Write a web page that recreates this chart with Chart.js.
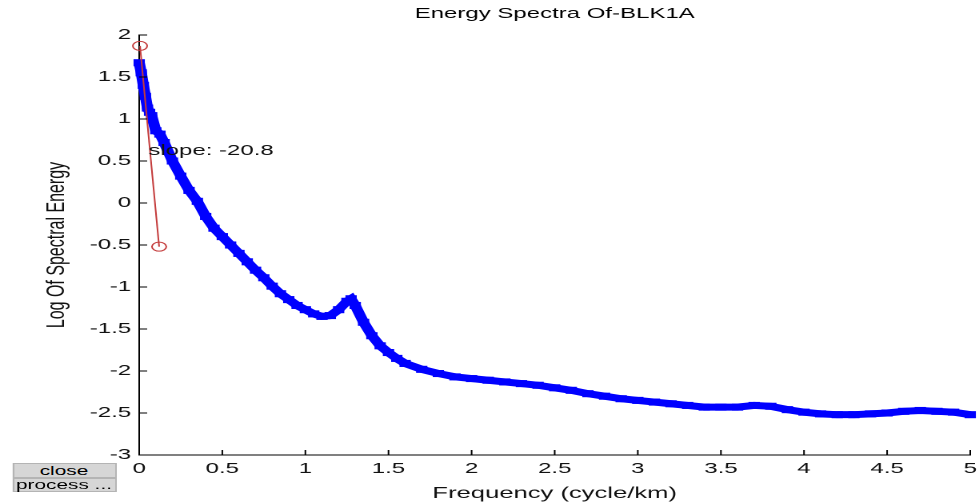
<!DOCTYPE html>
<html>
<head>
<meta charset="utf-8">
<script src="https://cdn.jsdelivr.net/npm/chart.js@4.4.0/dist/chart.umd.min.js"></script>
<style>
  html, body { margin: 0; padding: 0; background: #fff; overflow: hidden; }
  #wrap { position: absolute; left: 0; top: 0; width: 612px; height: 504px;
          transform: scaleX(1.5997); transform-origin: 0 0; }
  #myChart { position: absolute; left: 0; top: 0; }
  .btn { position: absolute; left: 7.5px; width: 65px; background: #d6d6d6;
         border: 1px solid #b4b4b4; box-sizing: border-box; text-align: center;
         font: 13px "Liberation Sans", Arial, sans-serif; color: #000; }
</style>
</head>
<body>
<div id="wrap">
  <canvas id="myChart" width="612" height="504" style="width:612px;height:504px"></canvas>
  <div class="btn" style="top:463px;height:15px;line-height:13px">close</div>
  <div class="btn" style="top:478px;height:14px;line-height:12px">process ...</div>
</div>
<script>
const chartTitle = "Energy Spectra Of-BLK1A"
const xTitle = "Frequency (cycle/km)"
const yTitle = "Log Of Spectral Energy"
const slopeLabel = "slope: -20.8"
const slopeAt = [0.055, 0.62]

// espectro
const freq = [0, 0.0125, 0.025, 0.0375, 0.05, 0.0625, 0.075, 0.1, 0.125, 0.15,
  0.2, 0.25, 0.3, 0.35, 0.4, 0.45, 0.5, 0.55, 0.6, 0.65,
  0.7, 0.75, 0.8, 0.85, 0.9, 0.95, 1.0, 1.05, 1.1, 1.15,
  1.2, 1.25, 1.275, 1.3, 1.35, 1.4, 1.45, 1.5, 1.55, 1.6,
  1.7, 1.8, 1.9, 2.0, 2.1, 2.2, 2.3, 2.4, 2.5, 2.6,
  2.7, 2.8, 2.9, 3.0, 3.1, 3.2, 3.3, 3.4, 3.5, 3.6,
  3.7, 3.8, 3.9, 4.0, 4.1, 4.2, 4.3, 4.4, 4.5, 4.6,
  4.7, 4.8, 4.9, 5.0]
const energia = [1.67, 1.55, 1.40, 1.27, 1.13, 1.08, 1.04, 0.86, 0.82, 0.72,
  0.50, 0.32, 0.15, 0.02, -0.16, -0.30, -0.40, -0.50, -0.60, -0.70,
  -0.80, -0.89, -0.99, -1.08, -1.15, -1.22, -1.27, -1.32, -1.35, -1.34,
  -1.27, -1.17, -1.14, -1.22, -1.42, -1.58, -1.70, -1.78, -1.85, -1.91,
  -1.98, -2.03, -2.07, -2.09, -2.11, -2.13, -2.15, -2.17, -2.20, -2.23,
  -2.27, -2.30, -2.33, -2.35, -2.37, -2.39, -2.41, -2.43, -2.43, -2.43,
  -2.41, -2.42, -2.46, -2.49, -2.51, -2.52, -2.52, -2.51, -2.50, -2.48,
  -2.47, -2.48, -2.49, -2.52]

// recta de pendiente
const slopeX = [0.005, 0.12]
const slopeY = [1.87, -0.52]

const xTicks = [0, 0.5, 1, 1.5, 2, 2.5, 3, 3.5, 4, 4.5, 5]
const yTicks = [-3, -2.5, -2, -1.5, -1, -0.5, 0, 0.5, 1, 1.5, 2]

const txtFont = '"Liberation Sans", Arial, sans-serif'

/* ticks hacia adentro + titulo + texto de pendiente */
const extras = {
    id: 'extras',
    afterDraw(chart) {
        const {ctx, chartArea: a, scales: {x, y}} = chart
        ctx.save()
        ctx.strokeStyle = '#000'
        ctx.lineWidth = 1
        ctx.beginPath()
        x.ticks.forEach(t => {
            const px = x.getPixelForValue(t.value)
            ctx.moveTo(px, a.bottom)
            ctx.lineTo(px, a.bottom - 5)
        })
        y.ticks.forEach(t => {
            const py = y.getPixelForValue(t.value)
            ctx.moveTo(a.left, py)
            ctx.lineTo(a.left + 5, py)
        })
        ctx.stroke()

        ctx.fillStyle = '#000'
        ctx.font = '15px ' + txtFont
        ctx.textAlign = 'center'
        ctx.textBaseline = 'middle'
        ctx.fillText(chartTitle, (a.left + a.right) / 2, 14)

        ctx.textAlign = 'left'
        ctx.fillStyle = '#111'
        ctx.fillText(slopeLabel, x.getPixelForValue(slopeAt[0]), y.getPixelForValue(slopeAt[1]))
        ctx.restore()
    }
}

const ctx = document.getElementById('myChart').getContext('2d')

new Chart(ctx, {
    type: 'scatter',
    data: {
        datasets: [{
            label: 'slope',
            data: slopeX.map((v, i) => ({x: v, y: slopeY[i]})),
            showLine: true,
            borderColor: '#c43c3c',
            borderWidth: 1,
            pointStyle: 'circle',
            pointRadius: 4.5,
            pointBorderWidth: 1,
            pointBorderColor: '#c43c3c',
            pointBackgroundColor: 'rgba(0,0,0,0)',
            clip: false
        }, {
            label: 'spectrum',
            data: freq.map((v, i) => ({x: v, y: energia[i]})),
            showLine: true,
            borderColor: '#0000ff',
            borderWidth: 7,
            pointStyle: 'rect',
            pointRadius: 5,
            pointBackgroundColor: '#0000ff',
            pointBorderColor: '#0000ff',
            pointBorderWidth: 0,
            clip: false
        }]
    },
    options: {
        responsive: false,
        animation: false,
        devicePixelRatio: 2,
        layout: { padding: { left: 0, right: 4.5, top: 35, bottom: 0 } },
        plugins: {
            legend: { display: false },
            tooltip: { enabled: false },
            title: { display: false }
        },
        scales: {
            x: {
                type: 'linear',
                min: 0,
                max: 5,
                afterFit: s => { s.height = 49; s.paddingRight = 0; s.paddingLeft = 0 },
                afterBuildTicks: s => { s.ticks = xTicks.map(v => ({value: v})) },
                grid: { display: false, drawTicks: false },
                border: { display: true, color: '#000', width: 1 },
                ticks: {
                    padding: 5,
                    color: '#111',
                    font: { family: txtFont, size: 15 },
                    maxRotation: 0,
                    callback: v => String(v)
                },
                title: {
                    display: true,
                    text: xTitle,
                    color: '#111',
                    font: { family: txtFont, size: 16 },
                    padding: { top: 0, bottom: 1 }
                }
            },
            y: {
                type: 'linear',
                min: -3,
                max: 2,
                afterFit: s => { s.width = 87 },
                afterBuildTicks: s => { s.ticks = yTicks.map(v => ({value: v})) },
                grid: { display: false, drawTicks: false },
                border: { display: true, color: '#000', width: 1 },
                ticks: {
                    padding: 5,
                    color: '#111',
                    font: { family: txtFont, size: 15 },
                    callback: v => String(v)
                },
                title: {
                    display: true,
                    text: yTitle,
                    color: '#111',
                    font: { family: txtFont, size: 16 },
                    padding: { top: 26, bottom: 0 }
                }
            }
        }
    },
    plugins: [extras]
})
</script>
</body>
</html>
